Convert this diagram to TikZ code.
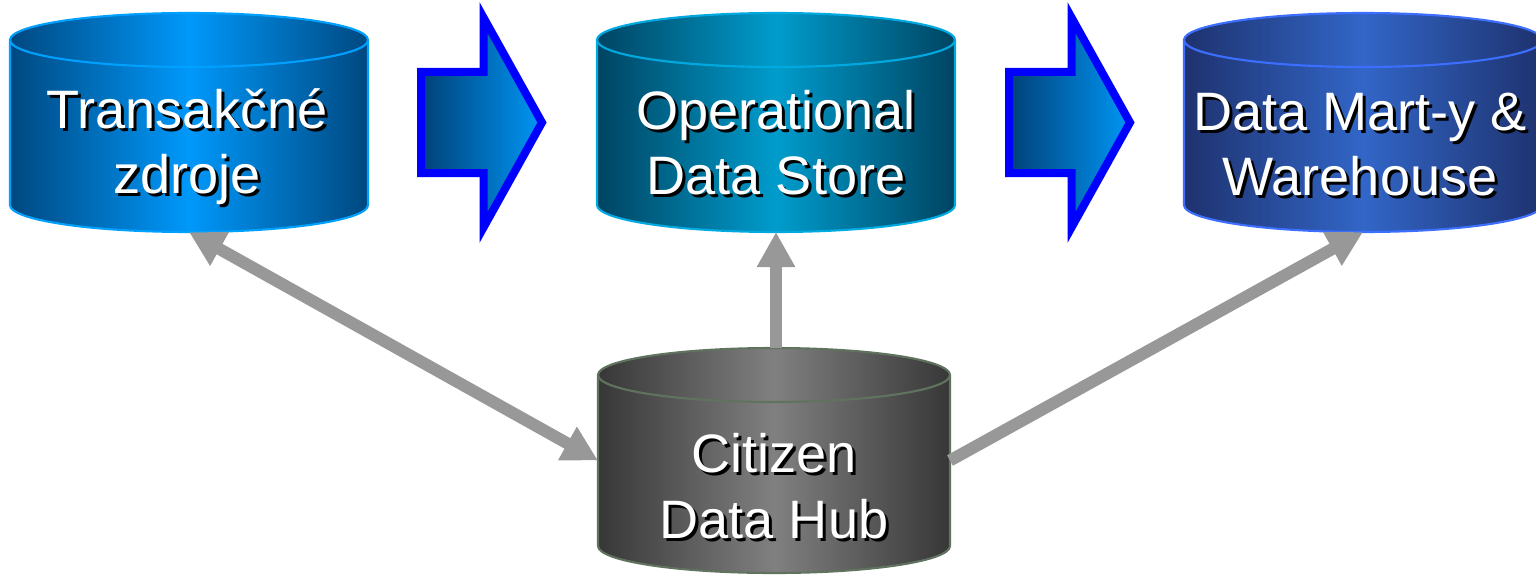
\documentclass[tikz,border=0pt]{standalone}
\usepackage{fontspec}
\setmainfont{Liberation Sans}
\usetikzlibrary{arrows.meta,calc}
\definecolor{linkgray}{RGB}{152,152,152}
\definecolor{flowblue}{RGB}{0,0,255}
\definecolor{flowdark}{RGB}{0,65,120}
\definecolor{flowlight}{RGB}{0,150,245}
\definecolor{srcdark}{RGB}{0,72,128}
\definecolor{srclight}{RGB}{0,152,250}
\definecolor{srcrim}{RGB}{0,160,255}
\definecolor{odsdark}{RGB}{0,68,98}
\definecolor{odslight}{RGB}{0,156,204}
\definecolor{odsrim}{RGB}{0,170,225}
\definecolor{whsdark}{RGB}{30,50,110}
\definecolor{whslight}{RGB}{50,102,200}
\definecolor{whsrim}{RGB}{60,110,255}
\definecolor{hubdark}{RGB}{55,55,55}
\definecolor{hublight}{RGB}{128,128,128}
\definecolor{hubrim}{RGB}{95,115,95}
\newcommand\drumbody[5]{%
  \path[draw=#5,line width=0.6pt,left color=#3,right color=#3,middle color=#4]
    ([yshift=-0.27cm]#1.north west) -- ([yshift=0.27cm]#1.south west)
    arc[start angle=180,end angle=360,x radius=#2,y radius=0.27cm]
    -- ([yshift=-0.27cm]#1.north east)
    arc[start angle=0,end angle=180,x radius=#2,y radius=0.27cm] -- cycle;
  \draw[draw=#5,line width=0.6pt] ([yshift=-0.27cm]#1.north west)
    arc[start angle=180,end angle=360,x radius=#2,y radius=0.27cm];
}
\newcommand\shadowlabel[3]{%
  \node[lbl,black] at ([shift={(0.03cm,-0.03cm)}]#2) {#3};
  \node[lbl,white] (#1) at (#2) {#3};
}
\begin{document}
\begin{tikzpicture}[
    drum/.style={inner sep=0pt,outer sep=0pt,minimum width=3.58cm,minimum height=2.19cm},
    hubdrum/.style={inner sep=0pt,outer sep=0pt,minimum width=3.52cm,minimum height=2.25cm},
    lbl/.style={align=center,font=\fontsize{15.4}{18.6}\selectfont,inner sep=0pt},
    link/.style={linkgray,line width=0.12cm,arrows={-Triangle[length=0.35cm,width=0.36cm]}},
    flow/.pic={
      \path[draw=flowblue,line width=0.08cm,left color=flowdark,right color=flowlight]
        (0,0.505) -- (0.625,0.505) -- (0.625,1.05) -- (1.21,0) -- (0.625,-1.05)
        -- (0.625,-0.505) -- (0,-0.505) -- cycle;
    }
  ]
  \useasboundingbox (0,0) rectangle (15.36,5.74);
  % drums
  \node[drum] (src) at (1.89,4.515) {};
  \node[drum] (ods) at (7.76,4.515) {};
  \node[drum] (whs) at (13.63,4.515) {};
  \node[hubdrum] (hub) at (7.74,1.135) {};
  \drumbody{src}{1.79cm}{srcdark}{srclight}{srcrim}
  \drumbody{ods}{1.79cm}{odsdark}{odslight}{odsrim}
  \drumbody{whs}{1.79cm}{whsdark}{whslight}{whsrim}
  \drumbody{hub}{1.76cm}{hubdark}{hublight}{hubrim}
  % labels
  \shadowlabel{srctxt}{1.87,4.27}{Transakčné\\zdroje}
  \shadowlabel{odstxt}{7.76,4.315}{Operational\\Data Store}
  \shadowlabel{whstxt}{13.60,4.295}{Data Mart-y \&\\Warehouse}
  \shadowlabel{hubtxt}{7.74,0.88}{Citizen\\Data Hub}
  % flow arrows
  \pic (flowa) at (4.21,4.515) {flow};
  \pic (flowb) at (10.09,4.515) {flow};
  % links
  \draw[link,arrows={Triangle[length=0.35cm,width=0.36cm]-Triangle[length=0.35cm,width=0.36cm]}] (src.south) -- (hub.west);
  \draw[link] (ods.south |- hub.north) -- (ods.south);
  \draw[link] (hub.east) -- (whs.south);
\end{tikzpicture}
\end{document}
